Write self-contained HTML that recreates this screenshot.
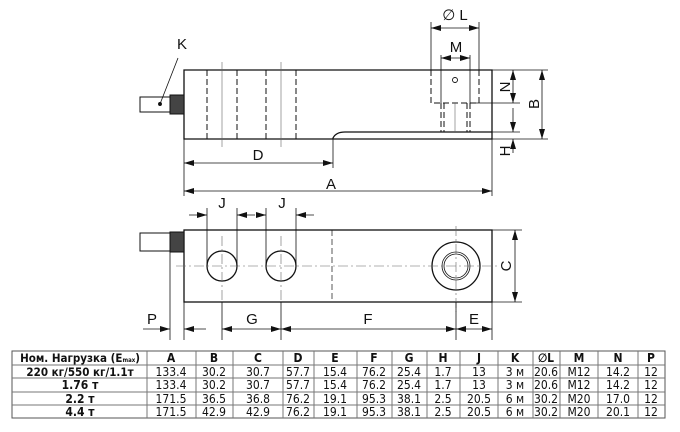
<!DOCTYPE html>
<html><head><meta charset="utf-8"><style>
html,body{margin:0;padding:0;background:#fff;width:680px;height:432px;overflow:hidden}
svg{display:block}
text{font-family:"Liberation Sans",Arial,sans-serif;fill:#111}
.t text{font-family:"DejaVu Sans Condensed","DejaVu Sans",sans-serif}
</style></head><body>
<svg width="680" height="432" viewBox="0 0 680 432" xmlns="http://www.w3.org/2000/svg">
<defs>
<marker id="a" viewBox="0 0 10 6" refX="10" refY="3" markerWidth="10" markerHeight="6" orient="auto-start-reverse" markerUnits="userSpaceOnUse"><path d="M0,0 L10,3 L0,6 z" fill="#111"/></marker>
</defs>
<g stroke="#111" stroke-width="1.3" fill="none">
<path d="M184,70 H492 V139 H184 Z"/>
<path d="M333,139 V138 Q336,132 345,132 H492"/>
<rect x="140" y="97" width="30" height="15" stroke-width="1"/>
<rect x="170" y="95" width="14" height="19" fill="#444" stroke-width="1"/>
<g stroke-width="1" stroke-dasharray="6,3">
<line x1="207" y1="70" x2="207" y2="139"/><line x1="237" y1="70" x2="237" y2="139"/>
<line x1="266" y1="70" x2="266" y2="139"/><line x1="296" y1="70" x2="296" y2="139"/>
<path d="M431,70 V103 H479 V70"/>
<line x1="441" y1="103" x2="441" y2="132"/><line x1="444" y1="103" x2="444" y2="132"/>
<line x1="467" y1="103" x2="467" y2="132"/><line x1="470" y1="103" x2="470" y2="132"/>
</g>
<g stroke-width="0.6" stroke="#666">
<line x1="222" y1="62" x2="222" y2="147"/><line x1="281" y1="62" x2="281" y2="147"/>
<line x1="455" y1="103" x2="455" y2="132"/>
</g>
<line x1="441" y1="55" x2="441" y2="103" stroke-width="0.8"/>
<line x1="470" y1="55" x2="470" y2="103" stroke-width="0.8"/>
<line x1="431" y1="22" x2="431" y2="70" stroke-width="0.8"/>
<line x1="479" y1="22" x2="479" y2="70" stroke-width="0.8"/>
<circle cx="455" cy="80" r="2.5" stroke-width="0.9"/>
<g stroke-width="0.8">
<line x1="431" y1="28" x2="479" y2="28" marker-start="url(#a)" marker-end="url(#a)"/>
<line x1="441" y1="58" x2="470" y2="58" marker-start="url(#a)" marker-end="url(#a)"/>
<line x1="492" y1="70" x2="548" y2="70"/><line x1="475" y1="103" x2="520" y2="103"/>
<line x1="492" y1="132" x2="520" y2="132"/><line x1="492" y1="139" x2="548" y2="139"/>
<line x1="513" y1="70" x2="513" y2="103" marker-start="url(#a)" marker-end="url(#a)"/>
<line x1="513" y1="108" x2="513" y2="132" marker-end="url(#a)"/>
<line x1="513" y1="153" x2="513" y2="139" marker-end="url(#a)"/>
<line x1="542" y1="70" x2="542" y2="139" marker-start="url(#a)" marker-end="url(#a)"/>
<line x1="184" y1="139" x2="184" y2="196"/><line x1="492" y1="139" x2="492" y2="196"/>
<line x1="333" y1="139" x2="333" y2="168"/>
<line x1="184" y1="163" x2="333" y2="163" marker-start="url(#a)" marker-end="url(#a)"/>
<line x1="184" y1="191" x2="492" y2="191" marker-start="url(#a)" marker-end="url(#a)"/>
<line x1="178" y1="58" x2="160" y2="104"/>
</g>
<circle cx="160" cy="104" r="1.3" fill="#111"/>

<rect x="184" y="230" width="308" height="72"/>
<rect x="140" y="233" width="30" height="18" stroke-width="1"/>
<rect x="170" y="232" width="14" height="20" fill="#444" stroke-width="1"/>
<circle cx="222" cy="266" r="15"/><circle cx="281" cy="266" r="15"/>
<circle cx="456" cy="266" r="24"/><circle cx="456" cy="266" r="14" stroke-width="0.8"/><circle cx="456" cy="266" r="12" stroke-width="0.8"/>
<g stroke-width="0.6" stroke="#666" stroke-dasharray="10,3,2,3">
<line x1="176" y1="266" x2="500" y2="266"/>
<line x1="222" y1="236" x2="222" y2="300"/><line x1="281" y1="236" x2="281" y2="300"/>
<line x1="456" y1="226" x2="456" y2="312"/>
</g>
<line x1="332" y1="230" x2="332" y2="302" stroke-width="0.7" stroke-dasharray="6,3"/>
<g stroke-width="0.8">
<line x1="207" y1="208" x2="207" y2="266"/><line x1="237" y1="208" x2="237" y2="266"/>
<line x1="266" y1="208" x2="266" y2="266"/><line x1="296" y1="208" x2="296" y2="266"/>
<line x1="189" y1="215" x2="207" y2="215" marker-end="url(#a)"/>
<line x1="255" y1="215" x2="237" y2="215" marker-end="url(#a)"/>
<line x1="257" y1="215" x2="266" y2="215" marker-end="url(#a)"/>
<line x1="314" y1="215" x2="296" y2="215" marker-end="url(#a)"/>
<line x1="492" y1="230" x2="522" y2="230"/><line x1="492" y1="302" x2="522" y2="302"/>
<line x1="515" y1="230" x2="515" y2="302" marker-start="url(#a)" marker-end="url(#a)"/>
<line x1="170" y1="252" x2="170" y2="340"/><line x1="184" y1="302" x2="184" y2="340"/>
<line x1="222" y1="302" x2="222" y2="340"/><line x1="281" y1="302" x2="281" y2="340"/>
<line x1="456" y1="302" x2="456" y2="340"/><line x1="492" y1="302" x2="492" y2="340"/>
<line x1="143" y1="329" x2="170" y2="329" marker-end="url(#a)"/>
<line x1="206" y1="329" x2="184" y2="329" marker-end="url(#a)"/>
<line x1="222" y1="329" x2="281" y2="329" marker-start="url(#a)" marker-end="url(#a)"/>
<line x1="281" y1="329" x2="456" y2="329" marker-start="url(#a)" marker-end="url(#a)"/>
<line x1="456" y1="329" x2="492" y2="329" marker-start="url(#a)" marker-end="url(#a)"/>
</g>
</g>
<g font-size="15" text-anchor="middle">
<text x="182" y="49">K</text>
<text x="455" y="20">∅ L</text>
<text x="456" y="52">M</text>
<text x="258" y="160">D</text>
<text x="331" y="189">A</text>
<text transform="translate(505,87) rotate(-90)" dy="5">N</text>
<text transform="translate(534,104) rotate(-90)" dy="5">B</text>
<text transform="translate(505,151) rotate(-90)" dy="5">H</text>
<text x="222" y="208">J</text>
<text x="282" y="208">J</text>
<text transform="translate(506,266) rotate(-90)" dy="5">C</text>
<text x="152" y="324">P</text>
<text x="252" y="324">G</text>
<text x="368" y="324">F</text>
<text x="474" y="324">E</text>
</g>

<g stroke="#777" stroke-width="1" fill="none">
<rect x="12" y="351" width="653" height="67" stroke="#555"/>
<line x1="12" y1="365" x2="665" y2="365"/><line x1="12" y1="378" x2="665" y2="378"/>
<line x1="12" y1="392" x2="665" y2="392"/><line x1="12" y1="405" x2="665" y2="405"/>
<path d="M147,351V418M196,351V418M233,351V418M283,351V418M314,351V418M357,351V418M392,351V418M427,351V418M460,351V418M498,351V418M533,351V418M560,351V418M598,351V418M638,351V418"/>
</g>
<g class="t" font-size="12" text-anchor="middle">
<g font-weight="bold">
<text x="80" y="362" font-size="11.5">Ном. Нагрузка (E<tspan font-size="6">max</tspan>)</text>
<text x="171" y="362">A</text><text x="214" y="362">B</text><text x="258" y="362">C</text><text x="298" y="362">D</text><text x="335" y="362">E</text><text x="374" y="362">F</text><text x="409" y="362">G</text><text x="443" y="362">H</text><text x="479" y="362">J</text><text x="515" y="362">K</text><text x="546" y="362">∅L</text><text x="579" y="362">M</text><text x="618" y="362">N</text><text x="651" y="362">P</text>
<text x="80" y="376" font-size="11.5">220 кг/550 кг/1.1т</text>
<text x="80" y="389">1.76 т</text>
<text x="80" y="403">2.2 т</text>
<text x="80" y="416">4.4 т</text>
</g>
<g>
<text x="171" y="376">133.4</text><text x="214" y="376">30.2</text><text x="258" y="376">30.7</text><text x="298" y="376">57.7</text><text x="335" y="376">15.4</text><text x="374" y="376">76.2</text><text x="409" y="376">25.4</text><text x="443" y="376">1.7</text><text x="479" y="376">13</text><text x="515" y="376">3 м</text><text x="546" y="376">20.6</text><text x="579" y="376">M12</text><text x="618" y="376">14.2</text><text x="651" y="376">12</text>
<text x="171" y="389">133.4</text><text x="214" y="389">30.2</text><text x="258" y="389">30.7</text><text x="298" y="389">57.7</text><text x="335" y="389">15.4</text><text x="374" y="389">76.2</text><text x="409" y="389">25.4</text><text x="443" y="389">1.7</text><text x="479" y="389">13</text><text x="515" y="389">3 м</text><text x="546" y="389">20.6</text><text x="579" y="389">M12</text><text x="618" y="389">14.2</text><text x="651" y="389">12</text>
<text x="171" y="403">171.5</text><text x="214" y="403">36.5</text><text x="258" y="403">36.8</text><text x="298" y="403">76.2</text><text x="335" y="403">19.1</text><text x="374" y="403">95.3</text><text x="409" y="403">38.1</text><text x="443" y="403">2.5</text><text x="479" y="403">20.5</text><text x="515" y="403">6 м</text><text x="546" y="403">30.2</text><text x="579" y="403">M20</text><text x="618" y="403">17.0</text><text x="651" y="403">12</text>
<text x="171" y="416">171.5</text><text x="214" y="416">42.9</text><text x="258" y="416">42.9</text><text x="298" y="416">76.2</text><text x="335" y="416">19.1</text><text x="374" y="416">95.3</text><text x="409" y="416">38.1</text><text x="443" y="416">2.5</text><text x="479" y="416">20.5</text><text x="515" y="416">6 м</text><text x="546" y="416">30.2</text><text x="579" y="416">M20</text><text x="618" y="416">20.1</text><text x="651" y="416">12</text>
</g>
</g>
</svg>
</body></html>
